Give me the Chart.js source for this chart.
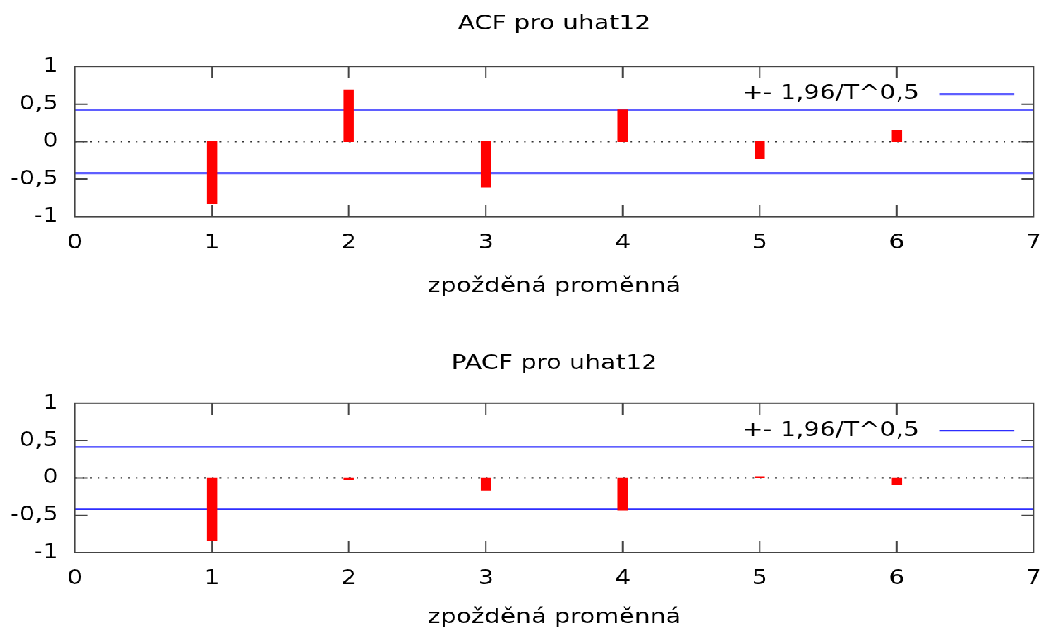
<!DOCTYPE html>
<html><head><meta charset="utf-8">
<script src="https://cdn.jsdelivr.net/npm/chart.js@4/dist/chart.umd.min.js"></script>
<style>
html,body{margin:0;padding:0;background:#fff;overflow:hidden;width:1059px;height:637px}
#stage{position:absolute;left:0;top:0;width:640px;height:480px;transform-origin:0 0;transform:scale(1.6547,1.3271)}
canvas{display:block}
</style></head><body>
<div id="stage"><canvas id="c1" width="640" height="253"></canvas><canvas id="c2" width="640" height="227"></canvas></div>
<script>
// ---- data ----
const lags = [1, 2, 3, 4, 5, 6];
const acfValues = [-0.823, 0.688, -0.605, 0.42, -0.227, 0.147];
const pacfValues = [-0.834, -0.018, -0.165, -0.43, 0.012, -0.089];
const band = 0.418;
const xTicks = [0, 1, 2, 3, 4, 5, 6, 7];
const yTicks = [-1, -0.5, 0, 0.5, 1];
const chartTitles = ['ACF pro uhat12', 'PACF pro uhat12'];
const xAxisTitle = 'zpožděná proměnná';
const legendLabel = '+- 1,96/T^0,5';

const FONT = 'DejaVu Sans';
const FS = 15;

const framePlugin = {
  id: 'frame',
  afterLayout(chart, args, o) {
    const a = chart.chartArea;
    const tb = chart.titleBlock;
    if (tb) { tb.left = a.left; tb.right = a.right; tb.width = a.right - a.left; }
    const lg = chart.legend;
    if (lg) {
      lg.left = a.left;
      lg.width = (a.right - a.left) - o.legendInset;
      lg.right = lg.left + lg.width;
      lg.top = a.top + o.legendDrop;
      lg.bottom = lg.top + lg.height;
    }
  },
  afterDatasetsDraw(chart, args, o) {
    const {ctx, chartArea: a, scales: {x, y}} = chart;
    ctx.save();
    ctx.strokeStyle = o.color;
    ctx.lineWidth = o.width;
    ctx.beginPath();
    x.ticks.forEach(t => {
      const px = x.getPixelForValue(t.value);
      if (px <= a.left + 0.5 || px >= a.right - 0.5) return;
      ctx.moveTo(px, a.bottom); ctx.lineTo(px, a.bottom - o.tickV);
      ctx.moveTo(px, a.top); ctx.lineTo(px, a.top + o.tickV);
    });
    y.ticks.forEach(t => {
      const py = y.getPixelForValue(t.value);
      if (py <= a.top + 0.5 || py >= a.bottom - 0.5) return;
      ctx.moveTo(a.left, py); ctx.lineTo(a.left + o.tickH, py);
      ctx.moveTo(a.right, py); ctx.lineTo(a.right - o.tickH, py);
    });
    ctx.stroke();
    ctx.strokeRect(a.left, a.top, a.right - a.left, a.bottom - a.top);
    ctx.restore();
  }
};

function makeChart(id, title, values, L) {
  const x0 = xTicks[0], x1 = xTicks[xTicks.length - 1];
  return new Chart(document.getElementById(id), {
    type: 'bar',
    data: {
      datasets: [
        {type: 'line', label: legendLabel, data: [{x: x0, y: band}, {x: x1, y: band}],
         borderColor: L.blue, borderWidth: L.blueW, pointRadius: 0, order: 3},
        {type: 'line', label: 'lower', data: [{x: x0, y: -band}, {x: x1, y: -band}],
         borderColor: L.blue, borderWidth: L.blueW, pointRadius: 0, order: 3},
        {type: 'line', label: 'zero', data: [{x: x0, y: 0}, {x: x1, y: 0}],
         borderColor: '#333', borderWidth: 1.1, borderDash: [1, 3.6], pointRadius: 0, order: 4},
        {type: 'bar', label: 'values', data: lags.map((l, i) => ({x: l, y: values[i]})),
         backgroundColor: '#ff0000', borderWidth: 0, barThickness: 5.6, order: 1}
      ]
    },
    options: {
      responsive: false,
      devicePixelRatio: 2,
      animation: false,
      layout: {padding: {left: 0, right: 9.7, top: 0, bottom: 0}},
      plugins: {
        tooltip: {enabled: false},
        title: {display: true, text: title, color: '#000',
                font: {family: FONT, size: FS, weight: 'normal', lineHeight: 1.2},
                padding: {top: L.titleTop, bottom: L.titleBottom}},
        legend: {
          position: 'chartArea', align: 'start', rtl: true,
          labels: {
            filter: item => item.datasetIndex === 0,
            generateLabels: chart => Chart.defaults.plugins.legend.labels.generateLabels(chart)
              .map(it => Object.assign(it, {text: it.text + ' '})),
            usePointStyle: true, pointStyle: 'line', pointStyleWidth: 45.3,
            color: '#000', font: {family: FONT, size: FS}, padding: 11.9
          }
        },
        frame: {color: '#444', width: 1, tickV: 8.8, tickH: 7.5, legendInset: -0.3, legendDrop: 1.3}
      },
      scales: {
        x: {
          type: 'linear', min: x0, max: x1, offset: false,
          afterBuildTicks: s => { s.ticks = xTicks.map(v => ({value: v})); },
          afterFit: s => { s.height = L.xAxisH; },
          grid: {display: false, drawTicks: false},
          border: {display: false},
          ticks: {color: '#000', font: {family: FONT, size: FS}, padding: 10.56, maxRotation: 0,
                  autoSkip: false, callback: v => String(v)},
          title: {display: true, text: xAxisTitle, color: '#000',
                  font: {family: FONT, size: FS, lineHeight: 1.2},
                  padding: {top: 0, bottom: L.xTitleBottom}}
        },
        y: {
          min: yTicks[0], max: yTicks[yTicks.length - 1],
          afterBuildTicks: s => { s.ticks = yTicks.map(v => ({value: v})); },
          afterFit: s => { s.width = 45.3; },
          grid: {display: false, drawTicks: false},
          border: {display: false},
          ticks: {color: '#000', font: {family: FONT, size: FS}, padding: 10, autoSkip: false,
                  callback: v => String(v).replace('.', ',')}
        }
      }
    },
    plugins: [framePlugin]
  });
}

makeChart('c1', chartTitles[0], acfValues,
  {titleTop: 9.16, titleBottom: 22.94, xAxisH: 89.7, xTitleBottom: 28.06, blue: 'rgb(95,95,255)', blueW: 1.6});
makeChart('c2', chartTitles[1], pacfValues,
  {titleTop: 11.86, titleBottom: 21.04, xAxisH: 63.5, xTitleBottom: 5.36, blue: 'rgb(45,45,255)', blueW: 1.1});
</script>
</body></html>
